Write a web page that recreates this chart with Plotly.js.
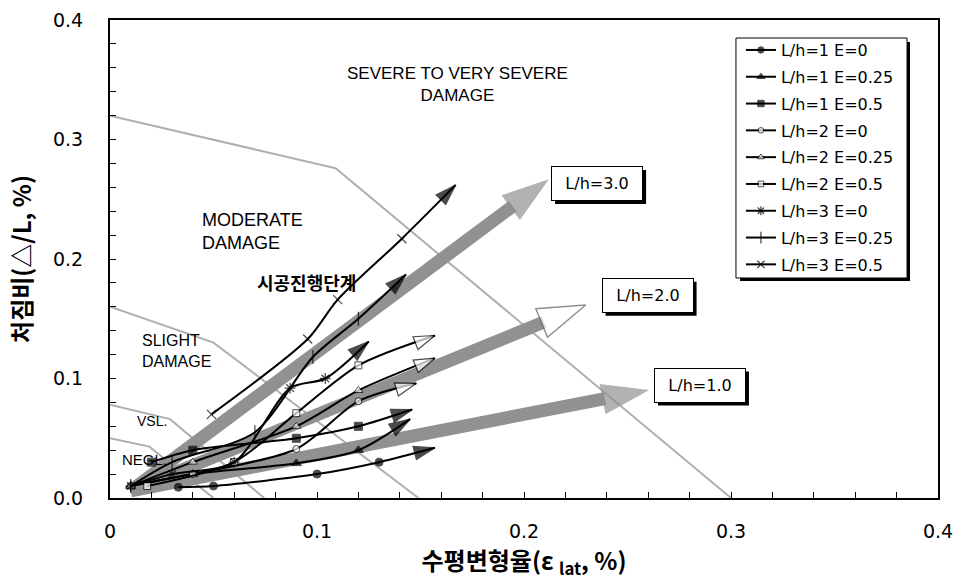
<!DOCTYPE html>
<html>
<head>
<meta charset="utf-8">
<script src="https://cdn.plot.ly/plotly-3.0.1.min.js"></script>
<style>html,body{margin:0;padding:0;background:#fff;}#chart{width:955px;height:585px;}</style>
</head>
<body>
<div id="chart"></div>
<script>
// ---- series data (x = lateral strain %, y = deflection ratio %) ----
const seriesNames = ["L/h=1 E=0","L/h=1 E=0.25","L/h=1 E=0.5","L/h=2 E=0","L/h=2 E=0.25","L/h=2 E=0.5","L/h=3 E=0","L/h=3 E=0.25","L/h=3 E=0.5"];
const lh1e0_x   = [0.033, 0.05, 0.10, 0.13, 0.157];
const lh1e0_y   = [0.009, 0.010, 0.020, 0.030, 0.042];
const lh1e025_x = [0.01, 0.04, 0.09, 0.12, 0.145];
const lh1e025_y = [0.01, 0.02, 0.029, 0.040, 0.066];
const lh1e05_x  = [0.02, 0.04, 0.09, 0.12, 0.146];
const lh1e05_y  = [0.030, 0.040, 0.050, 0.060, 0.074];
const lh2e0_x   = [0.01, 0.04, 0.09, 0.12, 0.148];
const lh2e0_y   = [0.01, 0.02, 0.041, 0.081, 0.096];
const lh2e025_x = [0.01, 0.04, 0.09, 0.12, 0.157];
const lh2e025_y = [0.01, 0.03, 0.060, 0.090, 0.117];
const lh2e05_x  = [0.018, 0.06, 0.09, 0.12, 0.157];
const lh2e05_y  = [0.01, 0.03, 0.071, 0.111, 0.136];
const lh3e0_x   = [0.01, 0.03, 0.06, 0.087, 0.104, 0.125];
const lh3e0_y   = [0.01, 0.02, 0.03, 0.092, 0.100, 0.131];
const lh3e025_x = [0.01, 0.03, 0.07, 0.098, 0.12, 0.143];
const lh3e025_y = [0.01, 0.03, 0.055, 0.118, 0.150, 0.187];
const lh3e05_x  = [0.049, 0.0955, 0.110, 0.141, 0.167];
const lh3e05_y  = [0.070, 0.133, 0.166, 0.217, 0.262];

// ---- trend arrows (thick gray) ----
const trendNames = ["L/h=3.0","L/h=2.0","L/h=1.0"];
const trend3_x = [0.01, 0.212];  const trend3_y = [0.006, 0.2667];
const trend2_x = [0.01, 0.2298]; const trend2_y = [0.006, 0.1615];
const trend1_x = [0.01, 0.2605]; const trend1_y = [0.006, 0.0904];

// ---- damage category boundaries ----
const bSevere_x = [0, 0.109, 0.30];  const bSevere_y = [0.32, 0.276, 0];
const bModer_x  = [0, 0.050, 0.149]; const bModer_y  = [0.16, 0.130, 0];
const bSlight_x = [0, 0.029, 0.0745]; const bSlight_y = [0.078, 0.066, 0];
const bVsl_x    = [0, 0.019, 0.050]; const bVsl_y    = [0.050, 0.043, 0];

// ---- tick labels ----
const xTickVals = [0, 0.1, 0.2, 0.3, 0.4];
const xTickText = ["0", "0.1", "0.2", "0.3", "0.4"];
const yTickVals = [0, 0.1, 0.2, 0.3, 0.4];
const yTickText = ["0.0", "0.1", "0.2", "0.3", "0.4"];

const seriesX = [lh1e0_x, lh1e025_x, lh1e05_x, lh2e0_x, lh2e025_x, lh2e05_x, lh3e0_x, lh3e025_x, lh3e05_x];
const seriesY = [lh1e0_y, lh1e025_y, lh1e05_y, lh2e0_y, lh2e025_y, lh2e05_y, lh3e0_y, lh3e025_y, lh3e05_y];
const seriesSymbols = ["circle","triangle-up","square","circle","triangle-up","square","asterisk-open","line-ns-open","x-thin-open"];
const seriesFill    = ["black","black","black","white","white","white","black","black","black"];
const seriesSize    = [8, 9, 8, 7, 8, 7, 9, 10, 9];
const headFill      = ["black","black","black","white","white","white","black","black","black"];

const traces = [];
const grayLine = "rgb(175,175,175)";
[[bSevere_x,bSevere_y],[bModer_x,bModer_y],[bSlight_x,bSlight_y],[bVsl_x,bVsl_y]].forEach(b => {
  traces.push({x:b[0], y:b[1], mode:"lines", line:{color:grayLine, width:2}, showlegend:false, hoverinfo:"skip"});
});
const trendX = [trend3_x, trend2_x, trend1_x];
const trendY = [trend3_y, trend2_y, trend1_y];
const trendHeadFill = ["rgb(145,145,145)", "white", "rgb(145,145,145)"];
trendX.forEach((tx, i) => {
  traces.push({x:tx, y:trendY[i], mode:"lines+markers", showlegend:false, hoverinfo:"skip",
    line:{color:"rgb(145,145,145)", width:13},
    marker:{symbol:["circle","arrow"], size:[0, 50], angleref:"previous",
      color:["rgba(0,0,0,0)", trendHeadFill[i]], line:{color:"rgb(100,100,100)", width:[0, i===1?1.5:0]}}});
});
seriesX.forEach((sx, i) => {
  const sy = seriesY[i];
  const n = sx.length;
  const sizes = sx.map((v, k) => k === n - 1 ? 0 : seriesSize[i]);
  const isLineSym = seriesSymbols[i].endsWith("-open");
  traces.push({x:sx, y:sy, name:seriesNames[i], legendgroup:"g"+i, mode:"lines+markers",
    line:{color:"black", width:2, shape:"spline", smoothing:0.8},
    marker:{symbol:seriesSymbols[i], size:sizes,
      color: isLineSym ? "black" : seriesFill[i],
      line:{color:"black", width: isLineSym ? 1.3 : 1}}});
});
seriesX.forEach((sx, i) => {
  const sy = seriesY[i];
  const n = sx.length;
  traces.push({x:[sx[n-2], sx[n-1]], y:[sy[n-2], sy[n-1]], mode:"markers", showlegend:false, hoverinfo:"skip",
    marker:{symbol:["circle","arrow"], size:[0, 22], angleref:"previous",
      color:["rgba(0,0,0,0)", headFill[i]], line:{color:"black", width:[0, 1.2]}}});
});

const txtFont = {family:"Liberation Sans, Arial, sans-serif", color:"black"};
function ann(text, x, y, size, extra) {
  return Object.assign({text:text, x:x, y:y, xref:"x", yref:"y", showarrow:false,
    font:Object.assign({}, txtFont, {size:size})}, extra || {});
}
const annotations = [
  ann("SEVERE TO VERY SEVERE<br>DAMAGE", 0.168, 0.346, 17),
  ann("MODERATE<br>DAMAGE", 0.0435, 0.2234, 18, {xanchor:"left", align:"left"}),
  ann("SLIGHT<br>DAMAGE", 0.0145, 0.1234, 16, {xanchor:"left", align:"left"}),
  ann("VSL.", 0.0121, 0.0644, 14, {xanchor:"left"}),
  ann("NEGL.", 0.0048, 0.0326, 15, {xanchor:"left"}),
  ann("<b>시공진행단계</b>", 0.0949, 0.1808, 18, {font:{family:"Noto Sans CJK KR", size:18, color:"black"}})
];
const boxX = [0.2353, 0.2597, 0.2850];
const boxY = [0.2628, 0.1692, 0.0941];
const shapes = [];
trendNames.forEach((t, i) => {
  shapes.push({type:"rect", xref:"x", yref:"y", xsizemode:"pixel", ysizemode:"pixel",
    xanchor:boxX[i], yanchor:boxY[i], x0:-42, x1:49, y0:-20, y1:14,
    fillcolor:"black", line:{width:0}, layer:"above"});
  annotations.push({text:t, x:boxX[i], y:boxY[i], xref:"x", yref:"y", showarrow:false,
    width:90, height:33, bgcolor:"white", bordercolor:"black", borderwidth:1, borderpad:0,
    font:{family:"DejaVu Sans", size:16, color:"black"}});
});
// legend frame and drop shadow
shapes.push({type:"rect", xref:"paper", yref:"paper", x0:0.7609, x1:0.9662, y0:0.4540, y1:0.9540,
  fillcolor:"black", line:{width:0}, layer:"above"});
shapes.push({type:"rect", xref:"paper", yref:"paper", x0:0.7560, x1:0.9626, y0:0.4603, y1:0.9623,
  fillcolor:"white", line:{width:1, color:"black"}, layer:"above"});

const layout = {
  width:955, height:585,
  margin:{l:110, r:17, t:20, b:87},
  paper_bgcolor:"white", plot_bgcolor:"white",
  showlegend:true,
  legend:{x:0.762, y:0.9727, xanchor:"left", yanchor:"top", bgcolor:"rgba(0,0,0,0)", borderwidth:0,
    font:{family:"DejaVu Sans", size:16, color:"black"}, traceorder:"grouped", tracegroupgap:3, itemwidth:30},
  xaxis:{range:[0,0.4], tickvals:xTickVals, ticktext:xTickText, ticks:"inside", ticklen:6, tickcolor:"black",
    minor:{dtick:0.02, ticks:"inside", ticklen:6, tickcolor:"black"},
    showgrid:false, zeroline:false, showline:true, linecolor:"black", linewidth:2, mirror:true,
    ticklabelstandoff:15,
    tickfont:{family:"DejaVu Sans", size:19, color:"black"},
    title:{text:"<b>수평변형율(ε <sub>lat</sub>, %)</b>", font:{family:"Noto Sans CJK KR", size:24, color:"black"}, standoff:10}},
  yaxis:{range:[0,0.4], tickvals:yTickVals, ticktext:yTickText, ticks:"inside", ticklen:6, tickcolor:"black",
    minor:{dtick:0.02, ticks:"inside", ticklen:6, tickcolor:"black"},
    showgrid:false, zeroline:false, showline:true, linecolor:"black", linewidth:2, mirror:true,
    ticklabelstandoff:21,
    tickfont:{family:"DejaVu Sans", size:19, color:"black"},
    title:{text:"<b>처짐비(△/L, %)</b>", font:{family:"Noto Sans CJK KR", size:24, color:"black"}, standoff:15}},
  annotations:annotations,
  shapes:shapes
};
Plotly.newPlot("chart", traces, layout, {displayModeBar:false, staticPlot:true});
</script>
</body>
</html>
